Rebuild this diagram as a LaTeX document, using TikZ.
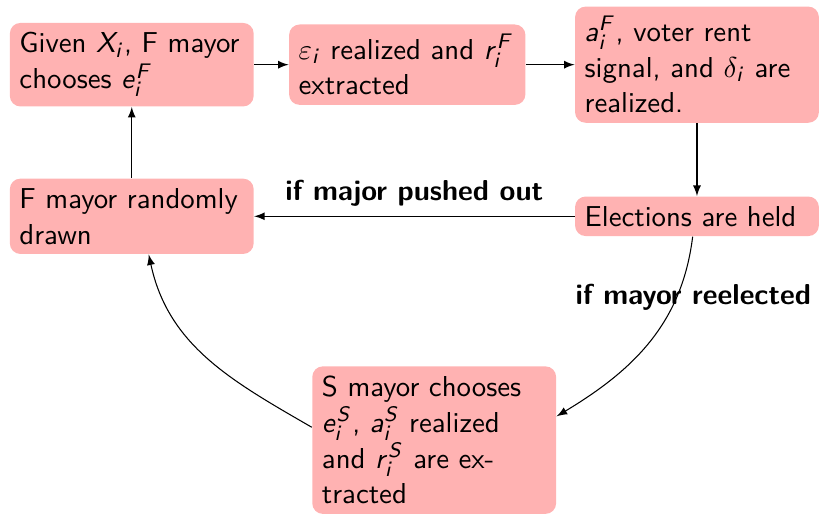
\documentclass[tikz,border=0pt,11pt]{standalone}
\renewcommand{\familydefault}{\sfdefault}
\DeclareSymbolFont{sfletters}{OT1}{cmss}{m}{sl}
\DeclareMathSymbol{a}{\mathalpha}{sfletters}{`a}
\DeclareMathSymbol{e}{\mathalpha}{sfletters}{`e}
\DeclareMathSymbol{i}{\mathalpha}{sfletters}{`i}
\DeclareMathSymbol{r}{\mathalpha}{sfletters}{`r}
\DeclareMathSymbol{F}{\mathalpha}{sfletters}{`F}
\DeclareMathSymbol{S}{\mathalpha}{sfletters}{`S}
\DeclareMathSymbol{X}{\mathalpha}{sfletters}{`X}

\begin{document}
\begin{tikzpicture}[>=latex]
  % Chronologie : maire F, elections, maire S
    \tikzset{stage/.style={fill=red!30, rounded corners=4pt, text width=3cm, font=\sffamily}}
    \useasboundingbox (0,0) rectangle (10.94,6.854);

    \node[stage] (given) at (1.76,5.99) {Given $X_i$, F mayor chooses $e_i^F$};
    \node[stage, text width=2.9cm] (realized) at (5.44,5.99) {$\varepsilon_i$ realized and $r_i^F$ extracted};
    \node[stage] (signal) at (9.31,5.99) {$a_i^F$, voter rent signal, and $\delta_i$ are realized.};
    \node[stage] (elections) at (9.31,3.965) {Elections are held};
    \node[stage] (drawn) at (1.76,3.965) {F mayor randomly drawn};
    \node[stage] (smayor) at (5.80,0.975) {S mayor chooses $e_i^S$, $a_i^S$ realized and $r_i^S$ are extracted};

    \draw[->] (given) -- (realized);
    \draw[->] (realized) -- (signal);
    \draw[->] (signal) -- (elections);
    \draw[->] (elections) -- node[above, font=\bfseries] {if major pushed out} (drawn);
    \draw[->] (drawn) -- (given);
    \draw[->] (elections.-102) to[out=-97, in=31]
      node[pos=0.24, xshift=2mm, yshift=-0.5mm, font=\bfseries] {if mayor reelected} (smayor.11);
    \draw[->] (smayor.174) to[out=150, in=-78] (drawn.-66);

  \end{tikzpicture}
\end{document}
